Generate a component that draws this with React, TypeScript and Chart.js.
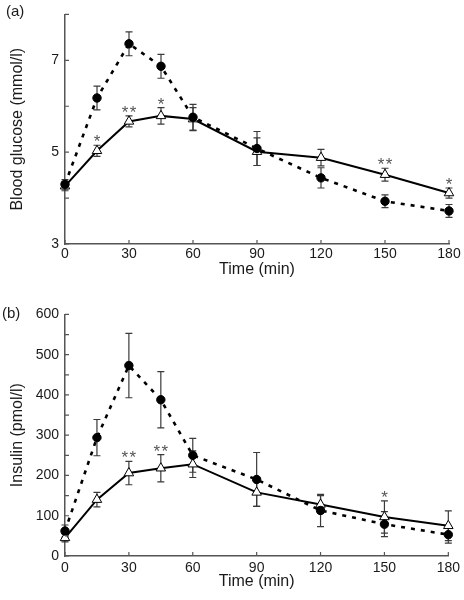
import React, { useEffect, useRef } from "react";
import { Chart, registerables } from "chart.js";

Chart.register(...registerables);

// ---------- data ----------
const timeMin = [0, 15, 30, 45, 60, 90, 120, 150, 180];

// panel (a) blood glucose, mmol/l
const glucoseDashed = [4.3, 6.18, 7.36, 6.87, 5.76, 5.08, 4.44, 3.93, 3.72];
const glucoseDashedErr = [0.1, 0.26, 0.26, 0.26, 0.28, 0.37, 0.22, 0.14, 0.14];
const glucoseSolid = [4.26, 5.03, 5.67, 5.79, 5.72, 5.01, 4.88, 4.51, 4.11];
const glucoseSolidErr = [0.1, 0.12, 0.12, 0.18, 0.25, 0.3, 0.18, 0.14, 0.11];
const glucoseSig = ["", "*", "**", "*", "", "", "", "**", "*"];

// panel (b) insulin, pmol/l
const insulinDashed = [62, 294, 473, 388, 250, 190, 113, 79, 53];
const insulinDashedErr = [15, 45, 80, 70, 42, 67, 40, 31, 21];
const insulinSolid = [45, 140, 206, 218, 228, 158, 128, 97, 75];
const insulinSolidErr = [10, 18, 29, 34, 33, 35, 22, 40, 37];
const insulinSig = ["", "", "**", "**", "", "", "", "*", ""];

const FONT = "'Liberation Sans', Arial, Helvetica, sans-serif";
const TEXT = "#1a1a1a";
const AXIS = "#555555";
const ERR = "#3a3a3a";

type PanelProps = {
  top: number;
  height: number;
  panelLabel: string;
  labelX: number;
  labelY: number;
  yTitle: string;
  yMin: number;
  yMax: number;
  yStep: number;
  yLabelEvery: number;
  dashed: number[];
  dashedErr: number[];
  solid: number[];
  solidErr: number[];
  sig: string[];
  padTop: number;
  xAxisHeight: number;
  xTitlePad: number;
  xTickPad: number;
};

function Panel(p: PanelProps) {
  const ref = useRef<HTMLCanvasElement | null>(null);

  useEffect(() => {
    if (!ref.current) return;

    const errorBars = {
      id: "errorBars",
      beforeDatasetsDraw(chart: any) {
        const ctx = chart.ctx;
        const xs = chart.scales.x;
        const ys = chart.scales.y;
        const sets = [
          { v: p.dashed, e: p.dashedErr },
          { v: p.solid, e: p.solidErr },
        ];
        ctx.save();
        ctx.strokeStyle = ERR;
        ctx.lineWidth = 1.2;
        for (const s of sets) {
          timeMin.forEach((t, i) => {
            const x = xs.getPixelForValue(t);
            const y1 = ys.getPixelForValue(s.v[i] + s.e[i]);
            const y2 = ys.getPixelForValue(s.v[i] - s.e[i]);
            ctx.beginPath();
            ctx.moveTo(x, y1);
            ctx.lineTo(x, y2);
            ctx.moveTo(x - 3.5, y1);
            ctx.lineTo(x + 3.5, y1);
            ctx.moveTo(x - 3.5, y2);
            ctx.lineTo(x + 3.5, y2);
            ctx.stroke();
          });
        }
        ctx.restore();
      },
    };

    const extras = {
      id: "extras",
      afterDraw(chart: any) {
        const ctx = chart.ctx;
        const xs = chart.scales.x;
        const ys = chart.scales.y;
        const area = chart.chartArea;
        ctx.save();
        // inward tick marks
        ctx.strokeStyle = AXIS;
        ctx.lineWidth = 1.2;
        ctx.beginPath();
        for (const t of xs.ticks) {
          const x = xs.getPixelForValue(t.value);
          ctx.moveTo(x, area.bottom);
          ctx.lineTo(x, area.bottom - 4);
        }
        for (const t of ys.ticks) {
          const y = ys.getPixelForValue(t.value);
          ctx.moveTo(area.left, y);
          ctx.lineTo(area.left + 4, y);
        }
        ctx.stroke();
        // significance asterisks
        ctx.fillStyle = "#555";
        ctx.font = `17px ${FONT}`;
        ctx.textAlign = "center";
        ctx.textBaseline = "alphabetic";
        timeMin.forEach((t, i) => {
          const s = p.sig[i];
          if (!s) return;
          const x = xs.getPixelForValue(t);
          const y = ys.getPixelForValue(p.solid[i] + p.solidErr[i]) + 2;
          const n = s.length;
          for (let k = 0; k < n; k++) {
            ctx.fillText("*", x + (k - (n - 1) / 2) * 8, y);
          }
        });
        // panel label
        ctx.fillStyle = TEXT;
        ctx.font = `15px ${FONT}`;
        ctx.textAlign = "left";
        ctx.textBaseline = "middle";
        ctx.fillText(p.panelLabel, p.labelX, p.labelY);
        ctx.restore();
      },
    };

    const chart = new Chart(ref.current, {
      type: "line",
      data: {
        datasets: [
          {
            data: timeMin.map((t, i) => ({ x: t, y: p.dashed[i] })),
            borderColor: "#000",
            borderWidth: 2.6,
            borderDash: [4, 6],
            pointStyle: "circle",
            pointRadius: 4.2,
            pointBackgroundColor: "#000",
            pointBorderColor: "#000",
            pointBorderWidth: 1,
            tension: 0,
            clip: false,
          },
          {
            data: timeMin.map((t, i) => ({ x: t, y: p.solid[i] })),
            borderColor: "#000",
            borderWidth: 2,
            pointStyle: "triangle",
            pointRadius: 5.5,
            pointBackgroundColor: "#fff",
            pointBorderColor: "#000",
            pointBorderWidth: 1,
            tension: 0,
            clip: false,
          },
        ],
      },
      options: {
        responsive: false,
        animation: false,
        devicePixelRatio: 1,
        layout: { padding: { top: p.padTop, right: 15, left: 0, bottom: 0 } },
        plugins: {
          legend: { display: false },
          tooltip: { enabled: false },
        },
        scales: {
          x: {
            type: "linear",
            min: 0,
            max: 180,
            grid: { display: false, drawTicks: false },
            border: { display: true, color: AXIS, width: 1.5 },
            ticks: {
              stepSize: 30,
              autoSkip: false,
              maxRotation: 0,
              padding: p.xTickPad,
              color: TEXT,
              font: { family: FONT, size: 14 },
            },
            title: {
              display: true,
              text: "Time (min)",
              color: TEXT,
              font: { family: FONT, size: 16 },
              padding: { top: 0, bottom: p.xTitlePad },
            },
            afterFit: (scale: any) => {
              scale.height = p.xAxisHeight;
            },
          },
          y: {
            type: "linear",
            min: p.yMin,
            max: p.yMax,
            grid: { display: false, drawTicks: false },
            border: { display: true, color: AXIS, width: 1.5 },
            ticks: {
              stepSize: p.yStep,
              autoSkip: false,
              padding: 6,
              color: TEXT,
              font: { family: FONT, size: 14 },
              callback: (v: any) =>
                Math.abs(((Number(v) - p.yMin) / p.yLabelEvery) % 1) < 1e-6 ? String(v) : "",
            },
            title: {
              display: true,
              text: p.yTitle,
              color: TEXT,
              font: { family: FONT, size: 16 },
              padding: { top: 8, bottom: 0 },
            },
            afterFit: (scale: any) => {
              scale.width = 65;
            },
          },
        },
      },
      plugins: [errorBars, extras],
    } as any);

    return () => chart.destroy();
  }, []);

  return (
    <div style={{ position: "absolute", left: 0, top: p.top, width: 464, height: p.height }}>
      <canvas ref={ref} width={464} height={p.height} />
    </div>
  );
}

export default function App() {
  return (
    <div style={{ position: "absolute", left: 0, top: 0, width: 464, height: 600, background: "#fff" }}>
      <Panel
        top={0}
        height={300}
        panelLabel="(a)"
        labelX={6}
        labelY={12}
        yTitle="Blood glucose (mmol/l)"
        yMin={3}
        yMax={8}
        yStep={1}
        yLabelEvery={2}
        dashed={glucoseDashed}
        dashedErr={glucoseDashedErr}
        solid={glucoseSolid}
        solidErr={glucoseSolidErr}
        sig={glucoseSig}
        padTop={6}
        xAxisHeight={56}
        xTitlePad={21}
        xTickPad={2}
      />
      <Panel
        top={300}
        height={300}
        panelLabel="(b)"
        labelX={2}
        labelY={14}
        yTitle="Insulin (pmol/l)"
        yMin={0}
        yMax={600}
        yStep={50}
        yLabelEvery={100}
        dashed={insulinDashed}
        dashedErr={insulinDashedErr}
        solid={insulinSolid}
        solidErr={insulinSolidErr}
        sig={insulinSig}
        padTop={12}
        xAxisHeight={44}
        xTitlePad={9}
        xTickPad={4}
      />
    </div>
  );
}
